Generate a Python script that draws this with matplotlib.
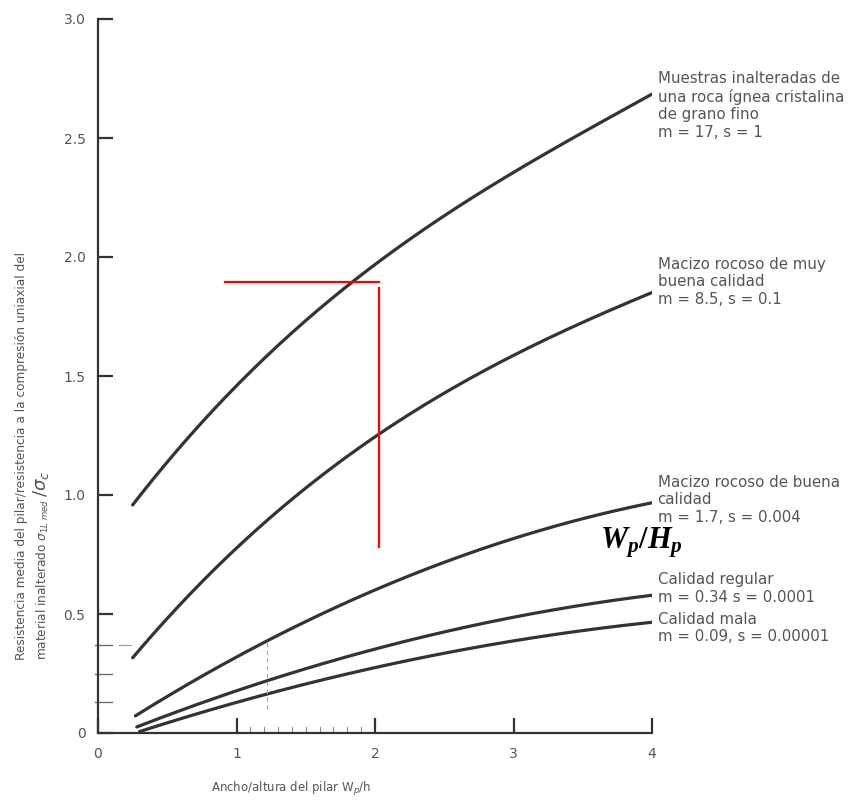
import matplotlib
matplotlib.use("Agg")
import matplotlib.pyplot as plt
import numpy as np

# ---- data ----
x_top = [0.25, 0.66, 0.95, 1.39, 1.84, 2.11, 2.38, 2.85, 3.34, 4.0]
y_top = [0.957, 1.24, 1.44, 1.68, 1.90, 2.01, 2.11, 2.31, 2.48, 2.68]

x_mb = [0.25, 0.66, 1.03, 1.39, 1.55, 2.04, 2.92, 3.34, 4.0]
y_mb = [0.306, 0.60, 0.80, 0.95, 1.06, 1.26, 1.57, 1.68, 1.85]

x_b = [0.27, 0.66, 1.22, 1.89, 2.11, 2.61, 3.34, 4.0]
y_b = [0.067, 0.22, 0.38, 0.57, 0.63, 0.74, 0.88, 0.965]

x_r = [0.28, 1.22, 1.89, 2.11, 2.61, 3.34, 4.0]
y_r = [0.025, 0.22, 0.335, 0.37, 0.44, 0.52, 0.58]

x_m = [0.30, 1.22, 1.89, 2.11, 2.61, 3.34, 4.0]
y_m = [0.013, 0.15, 0.256, 0.29, 0.36, 0.42, 0.46]

labels = [
    "Muestras inalteradas de\nuna roca ígnea cristalina\nde grano fino\nm = 17, s = 1",
    "Macizo rocoso de muy\nbuena calidad\nm = 8.5, s = 0.1",
    "Macizo rocoso de buena\ncalidad\nm = 1.7, s = 0.004",
    "Calidad regular\nm = 0.34 s = 0.0001",
    "Calidad mala\nm = 0.09, s = 0.00001",
]
label_y = [2.78, 2.00, 1.085, 0.675, 0.51]

xticks = [0, 1, 2, 3, 4]
yticks = [0, 0.5, 1.0, 1.5, 2.0, 2.5, 3.0]
ytick_labels = ["0", "0.5", "1.0", "1.5", "2.0", "2.5", "3.0"]

red_h_x = [0.92, 2.03]
red_h_y = 1.897
red_v_x = 2.03
red_v_y = [0.78, 1.87]

# ---- figure ----
plt.rcParams['mathtext.fontset'] = 'dejavusans'
plt.rcParams['mathtext.it'] = 'Liberation Serif:italic:bold'
plt.rcParams['mathtext.rm'] = 'Liberation Serif:bold'

fig = plt.figure(figsize=(8.56, 8.0), dpi=100)
ax = fig.add_axes([98/856, 67/800, 554/856, 714/800])
ax.set_xlim(0, 4)
ax.set_ylim(0, 3)

curve_color = "#333333"
text_color = "#555555"
series = [(x_top, y_top, 3), (x_mb, y_mb, 3), (x_b, y_b, 2), (x_r, y_r, 2), (x_m, y_m, 2)]
for xs, ys, deg in series:
    xx = np.linspace(xs[0], xs[-1], 200)
    p = np.polyfit(xs, ys, deg)
    ax.plot(xx, np.polyval(p, xx), color=curve_color, lw=2.3, solid_capstyle='round')

for ly, lab in zip(label_y, labels):
    ax.text(4.04, ly, lab, color=text_color, fontsize=10.8, va='top', ha='left',
            linespacing=1.2, clip_on=False)

# red construction lines
ax.plot(red_h_x, [red_h_y, red_h_y], color="red", lw=1.6)
ax.plot([red_v_x, red_v_x], red_v_y, color="red", lw=1.6)

# faint hand marks from the scan
ax.plot([1.22, 1.22], [0.1, 0.39], color="#aaaaaa", lw=0.8, ls=(0, (4, 3)))
ax.plot([0.15, 0.24], [0.37, 0.37], color="#999999", lw=0.8)
for yv in [0.13, 0.25, 0.37]:
    ax.plot([-0.02, 0.1], [yv, yv], color="#666666", lw=0.9, clip_on=False)
for xv in np.arange(1.1, 2.0, 0.1):
    ax.plot([xv, xv], [0, 0.025], color="#888888", lw=0.8)

# spines & ticks
for s in ['top', 'right']:
    ax.spines[s].set_visible(False)
for s in ['left', 'bottom']:
    ax.spines[s].set_linewidth(1.6)
    ax.spines[s].set_color("#333333")
ax.set_xticks(xticks)
ax.set_xticklabels([str(v) for v in xticks])
ax.set_yticks(yticks)
ax.set_yticklabels(ytick_labels)
ax.tick_params(direction='in', length=11, width=1.6, color="#333333",
               labelcolor=text_color, labelsize=10)
ax.tick_params(axis='x', pad=10)
ax.tick_params(axis='y', pad=9)

# axis labels
fig.text(291/856, 1 - 789/800, r"Ancho/altura del pilar W$_p$/h", color=text_color,
         fontsize=8.5, ha='center', va='center')
fig.text(21/856, 1 - 660/800,
         "Resistencia media del pilar/resistencia a la compresión uniaxial del",
         color=text_color, fontsize=8.7, rotation=90, rotation_mode='anchor',
         ha='left', va='center')
t2 = fig.text(43/856, 1 - 660/800,
              r"material inalterado $\sigma_{1L\ med}$",
              color=text_color, fontsize=8.7, rotation=90, rotation_mode='anchor',
              ha='left', va='center')
fig.canvas.draw()
bb = t2.get_window_extent()
fig.text(41/856, (bb.y1 + 2) / 800, r"$/\sigma_c$",
         color=text_color, fontsize=13, rotation=90, rotation_mode='anchor',
         ha='left', va='center')

# W_p/H_p
fig.text(600/856, 1 - 548/800, r"$W_p/H_p$", fontsize=22, math_fontfamily='custom',
         color="black", ha='left', va='baseline')

fig.savefig("out.png", dpi=100, facecolor="white")
